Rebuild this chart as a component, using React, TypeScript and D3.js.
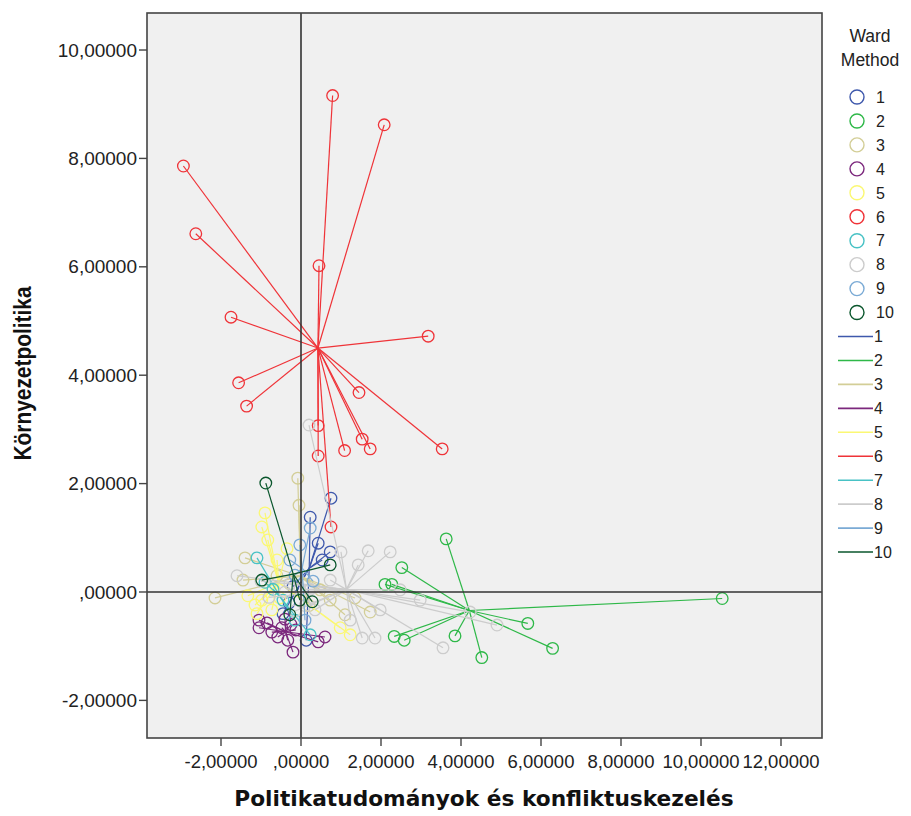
import React from "react";
import * as d3 from "d3";

// ---- data (x = Politikatudományok és konfliktuskezelés, y = Környezetpolitika)
const clusterIds = [1, 2, 3, 4, 5, 6, 7, 8, 9, 10];
const clusterColors = ["#3E58AC", "#2EB848", "#D3CE97", "#7C287D", "#FBF873", "#EF3338", "#48C2C5", "#CCCCCC", "#7AAAD5", "#0A562C"];

const c1: [number, number][] = [[0.75, 1.73], [0.23, 1.38], [0.43, 0.9], [0.73, 0.74], [0.53, 0.59], [-0.3, -0.2], [-0.45, -0.4], [0.13, -0.89], [-0.2, 0.1]];
const c2: [number, number][] = [[3.63, 0.98], [2.52, 0.45], [2.1, 0.14], [2.27, 0.14], [10.53, -0.12], [5.67, -0.58], [6.29, -1.04], [4.52, -1.21], [3.85, -0.81], [2.33, -0.82], [2.58, -0.89]];
const c3: [number, number][] = [[-2.15, -0.11], [-1.4, 0.63], [-1.45, 0.22], [-0.08, 2.1], [-0.05, 1.6], [1.35, -0.11], [1.73, -0.37], [0.73, -0.15], [0.48, 0.04], [1.1, -0.42], [-0.6, 0.3], [0.2, -0.25]];
const c4: [number, number][] = [[-1.05, -0.52], [-1.05, -0.66], [-0.85, -0.57], [-0.58, -0.83], [-0.2, -1.11], [-0.48, -0.66], [0.43, -0.92], [0.6, -0.83], [-0.33, -0.89], [-0.73, -0.74], [-0.13, -0.7], [-0.4, -0.5], [-0.25, -0.6]];
const c5: [number, number][] = [[-0.9, 1.46], [-0.83, 0.96], [-0.98, 1.2], [-1.15, -0.24], [-0.98, -0.15], [-0.73, -0.33], [-0.53, -0.11], [-1.33, -0.07], [1.23, -0.79], [0.98, -0.66], [-0.6, 0.59], [-0.35, 0.8], [-1.1, -0.4]];
const c6: [number, number][] = [[0.79, 9.16], [2.08, 8.62], [-2.94, 7.86], [-2.63, 6.61], [0.45, 6.02], [-1.75, 5.07], [3.18, 4.72], [-1.56, 3.86], [-1.36, 3.43], [1.45, 3.68], [0.43, 3.07], [1.53, 2.82], [1.73, 2.64], [1.09, 2.61], [0.43, 2.51], [3.53, 2.64], [0.75, 1.2]];
const c7: [number, number][] = [[-1.1, 0.63], [-0.9, 0.18], [0.23, -0.79], [-0.45, -0.15], [-0.15, -0.52], [-0.7, 0.05]];
const c8: [number, number][] = [[1.68, 0.76], [2.23, 0.74], [1.0, 0.74], [1.43, 0.5], [1.53, -0.85], [1.85, -0.85], [3.55, -1.03], [4.9, -0.61], [0.2, 3.08], [2.98, -0.15], [2.48, 0.04], [1.98, -0.33], [1.23, -0.52], [0.73, 0.22], [0.35, -0.33], [4.23, -0.37], [-0.03, 0.05], [-0.28, 0.15], [0.1, -0.25], [-0.15, -0.35], [0.23, 0.05], [-0.4, 0.0], [-1.0, 0.2], [-0.8, -0.1], [-1.6, 0.3]];
const c9: [number, number][] = [[-0.03, 0.87], [0.23, 1.18], [-0.28, 0.59], [0.1, -0.52], [-0.15, 0.31], [0.3, 0.2]];
const c10: [number, number][] = [[-0.88, 2.01], [0.73, 0.5], [-0.98, 0.22], [0.28, -0.18], [-0.03, -0.15], [-0.28, -0.42]];
const clusterPoints = [c1, c2, c3, c4, c5, c6, c7, c8, c9, c10];

const xTicks = [-2, 0, 2, 4, 6, 8, 10, 12];
const yTicks = [-2, 0, 2, 4, 6, 8, 10];
const xTitle = "Politikatudományok és konfliktuskezelés";
const yTitle = "Környezetpolitika";
const legendTitle = ["Ward", "Method"];

const fmt = (v: number) => (v === 0 ? ",00000" : v.toFixed(5).replace(".", ","));

export default function App() {
  const W = 911, H = 816;
  const left = 147, right = 822, top = 13, bottom = 738;
  const x = d3.scaleLinear().domain([-3.85, 13.025]).range([left, right]);
  const y = d3.scaleLinear().domain([-2.694, 10.683]).range([bottom, top]);
  const font = "'Liberation Sans', Arial, sans-serif";

  const clusters = clusterPoints.map((pts, i) => {
    const cx = d3.mean(pts, (p) => p[0]) as number;
    const cy = d3.mean(pts, (p) => p[1]) as number;
    return { id: clusterIds[i], color: clusterColors[i], pts, cx, cy };
  });

  const legY = (i: number) => 97 + i * 23.95;

  return (
    <svg width={W} height={H} style={{ position: "absolute", left: 0, top: 0, background: "#fff" }}>
      <rect x={left} y={top} width={right - left} height={bottom - top} fill="#F0F0F0" />
      <defs>
        <clipPath id="plotclip">
          <rect x={left} y={top} width={right - left} height={bottom - top} />
        </clipPath>
      </defs>
      <g clipPath="url(#plotclip)">
        {clusters.map((c) => (
          <g key={c.id}>
            {c.pts.map((p, j) => (
              <line key={"l" + j} x1={x(c.cx)} y1={y(c.cy)} x2={x(p[0])} y2={y(p[1])} stroke={c.color} strokeWidth={1.2} />
            ))}
            {c.pts.map((p, j) => (
              <circle key={"c" + j} cx={x(p[0])} cy={y(p[1])} r={5.8} fill="none" stroke={c.color} strokeWidth={1.3} />
            ))}
          </g>
        ))}
        <line x1={x(0)} x2={x(0)} y1={top} y2={bottom} stroke="#333" strokeWidth={1.6} />
        <line x1={left} x2={right} y1={y(0)} y2={y(0)} stroke="#333" strokeWidth={1.6} />
      </g>
      <rect x={left} y={top} width={right - left} height={bottom - top} fill="none" stroke="#444" strokeWidth={1.6} />

      {xTicks.map((t) => (
        <g key={t}>
          <line x1={x(t)} x2={x(t)} y1={bottom} y2={bottom + 8} stroke="#444" strokeWidth={1.4} />
          <text x={x(t)} y={bottom + 30} textAnchor="middle" fontFamily={font} fontSize={18.5} fill="#222">{fmt(t)}</text>
        </g>
      ))}
      {yTicks.map((t) => (
        <g key={t}>
          <line x1={left - 8} x2={left} y1={y(t)} y2={y(t)} stroke="#444" strokeWidth={1.4} />
          <text x={left - 10} y={y(t)} dy="0.35em" textAnchor="end" fontFamily={font} fontSize={19} fill="#222">{fmt(t)}</text>
        </g>
      ))}

      <text x={484} y={806} textAnchor="middle" fontFamily="'DejaVu Sans', Verdana, sans-serif" fontWeight="bold" fontSize={21.7} fill="#111">{xTitle}</text>
      <text transform={`translate(31,${(top + bottom) / 2 - 2}) rotate(-90)`} textAnchor="middle" fontFamily="'Liberation Sans Narrow', 'Arial Narrow', 'Liberation Sans', sans-serif" fontWeight="bold" fontSize={24} textLength={174} lengthAdjust="spacingAndGlyphs" fill="#111">{yTitle}</text>

      {legendTitle.map((s, i) => (
        <text key={s} x={870} y={42 + i * 24} textAnchor="middle" fontFamily={font} fontSize={17.5} fill="#222">{s}</text>
      ))}
      {clusters.map((c, i) => (
        <g key={"lc" + c.id}>
          <circle cx={857} cy={legY(i)} r={7} fill="none" stroke={c.color} strokeWidth={1.4} />
          <text x={876} y={legY(i)} dy="0.36em" fontFamily={font} fontSize={16} fill="#222">{c.id}</text>
        </g>
      ))}
      {clusters.map((c, i) => (
        <g key={"ll" + c.id}>
          <line x1={838} x2={873} y1={legY(i + 10)} y2={legY(i + 10)} stroke={c.color} strokeWidth={1.6} />
          <text x={874} y={legY(i + 10)} dy="0.36em" fontFamily={font} fontSize={16} fill="#222">{c.id}</text>
        </g>
      ))}
    </svg>
  );
}
